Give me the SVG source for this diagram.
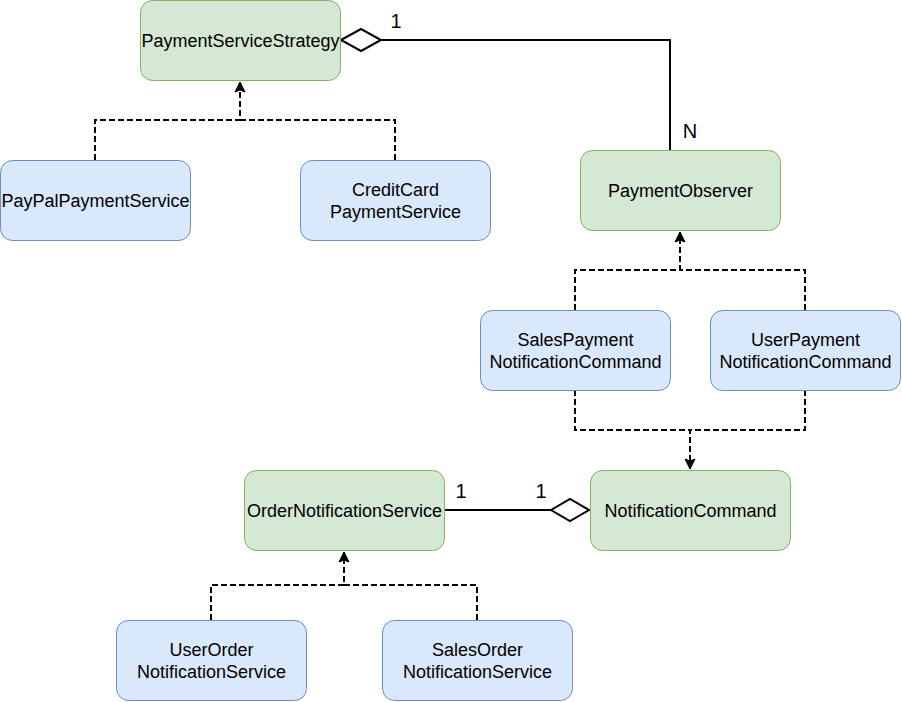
<svg xmlns="http://www.w3.org/2000/svg" width="902" height="702" viewBox="0 0 902 702">
<style>
.g{fill:#d5e8d4;stroke:#82b366;stroke-width:1}
.b{fill:#dae8fc;stroke:#6c8ebf;stroke-width:1}
text{font-family:"Liberation Sans",Arial,sans-serif;font-size:18px;fill:#000;text-anchor:middle}
text.l{font-size:20px}
.d{fill:none;stroke:#000;stroke-width:2;stroke-dasharray:6 3}
.s{fill:none;stroke:#000;stroke-width:2}
.dia{fill:#fff;stroke:#000;stroke-width:2}
</style>
<defs>
<marker id="arr" markerWidth="12" markerHeight="12" viewBox="0 0 12 12" refX="11" refY="6" orient="auto" markerUnits="userSpaceOnUse">
<path d="M1,1 L11,6 L1,11 L3,6 Z" fill="#000" stroke="#000" stroke-width="1"/>
</marker>
</defs>
<rect width="902" height="702" fill="#fff"/>
<g id="connectors">
<path class="d" d="M95,160 V120 H240 V82" marker-end="url(#arr)"/>
<path class="d" d="M395,160 V120 H240"/>
<path class="d" d="M575,310 V270 H680 V232" marker-end="url(#arr)"/>
<path class="d" d="M805,310 V270 H680"/>
<path class="d" d="M575,390 V430 H690 V469" marker-end="url(#arr)"/>
<path class="d" d="M805,390 V430 H690"/>
<path class="d" d="M211,620 V585 H344 V552" marker-end="url(#arr)"/>
<path class="d" d="M477,620 V585 H344"/>
<path class="s" d="M380,40 H670 V150"/>
<path class="dia" d="M341,40 L361,29 L381,40 L361,51 Z"/>
<path class="s" d="M444,510 H551"/>
<path class="dia" d="M551,510 L570,499 L589,510 L570,521 Z"/>
<text class="l" x="396" y="28">1</text>
<text class="l" x="690" y="138">N</text>
<text class="l" x="461" y="498">1</text>
<text class="l" x="541" y="498">1</text>
</g>
<g id="PaymentServiceStrategy"><rect class="g" x="140.5" y="0.5" width="200" height="80" rx="12"/><text x="240.5" y="46.5">PaymentServiceStrategy</text></g>
<g id="PayPalPaymentService"><rect class="b" x="0.5" y="160.5" width="190" height="80" rx="12"/><text x="95.5" y="206.5">PayPalPaymentService</text></g>
<g id="CreditCardPaymentService"><rect class="b" x="300.5" y="160.5" width="190" height="80" rx="12"/><text x="395.5" y="195.5">CreditCard</text><text x="395.5" y="217.5">PaymentService</text></g>
<g id="PaymentObserver"><rect class="g" x="580.5" y="150.5" width="200" height="80" rx="12"/><text x="680.5" y="196.5">PaymentObserver</text></g>
<g id="SalesPaymentNotificationCommand"><rect class="b" x="480.5" y="310.5" width="190" height="80" rx="12"/><text x="575.5" y="345.5">SalesPayment</text><text x="575.5" y="367.5">NotificationCommand</text></g>
<g id="UserPaymentNotificationCommand"><rect class="b" x="710.5" y="310.5" width="190" height="80" rx="12"/><text x="805.5" y="345.5">UserPayment</text><text x="805.5" y="367.5">NotificationCommand</text></g>
<g id="NotificationCommand"><rect class="g" x="590.5" y="470.5" width="200" height="80" rx="12"/><text x="690.5" y="516.5">NotificationCommand</text></g>
<g id="OrderNotificationService"><rect class="g" x="244.5" y="470.5" width="200" height="80" rx="12"/><text x="344.5" y="516.5">OrderNotificationService</text></g>
<g id="UserOrderNotificationService"><rect class="b" x="116.5" y="620.5" width="190" height="80" rx="12"/><text x="211.5" y="655.5">UserOrder</text><text x="211.5" y="677.5">NotificationService</text></g>
<g id="SalesOrderNotificationService"><rect class="b" x="382.5" y="620.5" width="190" height="80" rx="12"/><text x="477.5" y="655.5">SalesOrder</text><text x="477.5" y="677.5">NotificationService</text></g>
</svg>
